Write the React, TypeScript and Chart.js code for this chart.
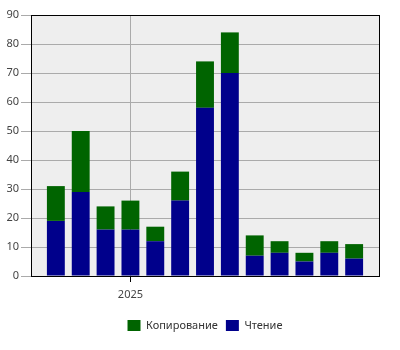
import React, { useEffect, useRef } from "react";
import { Chart, registerables } from "chart.js";

Chart.register(...registerables);

const months = ["", "2024-10", "2024-11", "2024-12", "2025-01", "2025-02", "2025-03", "2025-04", "2025-05", "2025-06", "2025-07", "2025-08", "2025-09", "2025-10", ""];
const readValues = [null, 19, 29, 16, 16, 12, 26, 58, 70, 7, 8, 5, 8, 6, null];
const copyValues = [null, 12, 21, 8, 10, 5, 10, 16, 14, 7, 4, 3, 4, 5, null];
const yearTickIndex = 4;
const yearTickLabel = "2025";

const FONT = "'Noto Sans', sans-serif";

const framePlugin = {
  id: "frame",
  afterLayout(chart: any) {
    const lg = chart.legend;
    if (lg) {
      lg.left += 5;
      lg.right += 5;
    }
  },
  beforeDraw(chart: any) {
    const { ctx, chartArea } = chart;
    ctx.save();
    ctx.fillStyle = "#eeeeee";
    ctx.fillRect(chartArea.left, chartArea.top, chartArea.right - chartArea.left, chartArea.bottom - chartArea.top);
    ctx.restore();
  },
  afterDraw(chart: any) {
    const { ctx, chartArea } = chart;
    ctx.save();
    ctx.strokeStyle = "#000000";
    ctx.lineWidth = 1;
    ctx.strokeRect(Math.round(chartArea.left) + 0.5, Math.round(chartArea.top) + 0.5, Math.round(chartArea.right - chartArea.left), Math.round(chartArea.bottom - chartArea.top));
    ctx.restore();
  },
};

export default function App() {
  const ref = useRef<HTMLCanvasElement>(null);
  useEffect(() => {
    if (!ref.current) return;
    const chart = new Chart(ref.current, {
      type: "bar",
      data: {
        labels: months,
        datasets: [
          { label: "Чтение", data: readValues as any, backgroundColor: "#00008b" },
          { label: "Копирование", data: copyValues as any, backgroundColor: "#006400" },
        ],
      },
      options: {
        animation: false,
        responsive: false,
        layout: { padding: { top: 15, right: 0, left: 0, bottom: 9 } },
        plugins: {
          legend: {
            position: "bottom",
            reverse: true,
            labels: { boxWidth: 13, boxHeight: 11, color: "#333", font: { family: FONT, size: 11 }, padding: 8 },
          },
          tooltip: { enabled: false },
        },
        scales: {
          x: {
            stacked: true,
            offset: false,
            grid: {
              offset: false,
              color: (c: any) => (c.index === yearTickIndex ? "#aaaaaa" : "rgba(0,0,0,0)"),
              tickColor: (c: any) => (c.index === yearTickIndex ? "#000000" : "rgba(0,0,0,0)"),
              tickLength: 6,
            },
            border: { color: "#000000" },
            ticks: {
              autoSkip: false,
              maxRotation: 0,
              padding: 6,
              color: "#444",
              font: { family: FONT, size: 11 },
              callback: (_v: any, i: number) => (i === yearTickIndex ? yearTickLabel : ""),
            },
            afterFit: (s: any) => { s.height = 36; },
          },
          y: {
            stacked: true,
            min: 0,
            max: 90,
            grid: { color: "#aaaaaa", tickLength: 10 },
            border: { color: "#000000" },
            ticks: { stepSize: 10, padding: 2, color: "#444", font: { family: FONT, size: 11 } },
            afterFit: (s: any) => { s.width = 31; },
          },
          y2: {
            position: "right",
            display: true,
            grid: { drawOnChartArea: false, drawTicks: false },
            border: { display: false },
            ticks: { display: false },
            afterFit: (s: any) => { s.width = 21; },
          },
        },
      },
      plugins: [framePlugin],
    });
    return () => chart.destroy();
  }, []);
  return (
    <div style={{ position: "fixed", left: 0, top: 0, width: 400, height: 350, background: "#fff" }}>
      <canvas ref={ref} width={400} height={350} style={{ width: 400, height: 350 }} />
    </div>
  );
}
